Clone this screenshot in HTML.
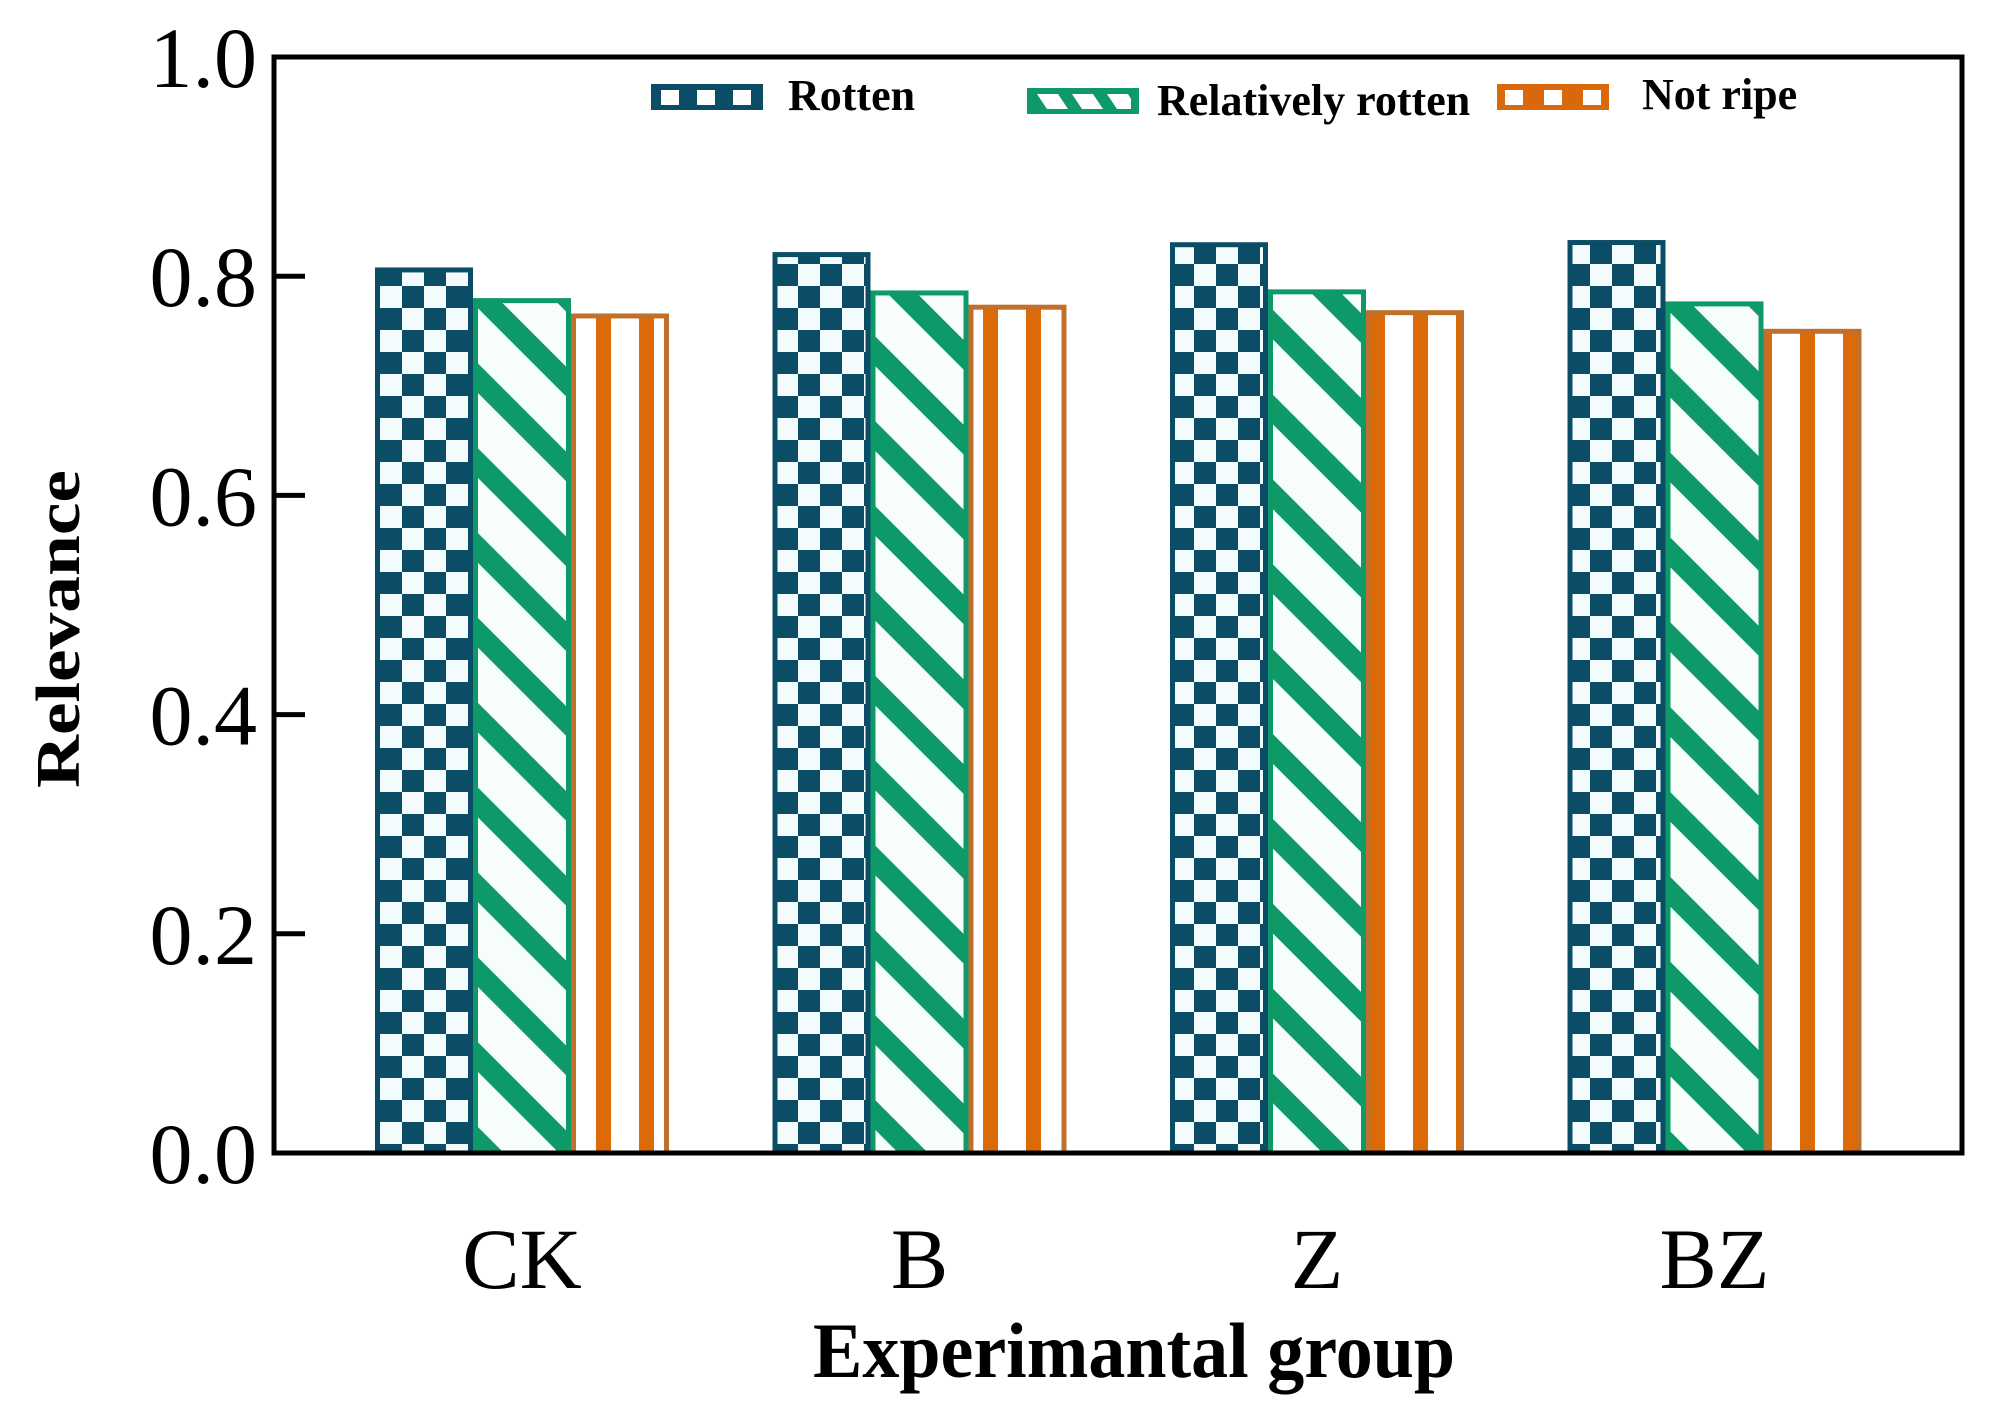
<!DOCTYPE html>
<html><head><meta charset="utf-8"><style>html,body{margin:0;padding:0;background:#fff}svg{display:block}</style></head>
<body>
<svg id="chart" width="1993" height="1415" viewBox="0 0 1993 1415" xmlns="http://www.w3.org/2000/svg" font-family="'Liberation Serif', serif">
<defs>
<pattern id="pat-check" patternUnits="userSpaceOnUse" width="44" height="44" x="380" y="0">
<rect width="44" height="44" fill="#f4fbfd"/><rect width="22" height="22" fill="#0b4c66"/><rect x="22" y="22" width="22" height="22" fill="#0b4c66"/></pattern>
<pattern id="pat-diag" patternUnits="userSpaceOnUse" width="60" height="60" patternTransform="rotate(-45)">
<rect width="60" height="60" fill="#f6fdfb"/><rect width="21" height="60" fill="#0d9a68"/></pattern>
<pattern id="pat-vert" patternUnits="userSpaceOnUse" width="43" height="10" x="574">
<rect width="43" height="10" fill="#fff"/><rect x="22" width="15" height="10" fill="#dc6a06"/></pattern>
</defs>
<g id="bars"></g>
<g id="axes"></g>
<g id="legend">
<g>
<rect x="651" y="84" width="112" height="26" fill="#0b4c66"/>
<rect x="661" y="90" width="18" height="15" fill="#fff"/><rect x="697" y="90" width="18" height="15" fill="#fff"/><rect x="733" y="90" width="18" height="15" fill="#fff"/>
<text x="788" y="110" font-size="44" font-weight="bold">Rotten</text></g>
<g>
<rect x="1027" y="88" width="112" height="26" fill="#0d9a68"/>
<polygon points="1037,94 1058,94 1068,109 1047,109" fill="#fff"/><polygon points="1072,94 1093,94 1103,109 1082,109" fill="#fff"/><polygon points="1107,94 1128,94 1131,99 1131,109 1117,109" fill="#fff"/>
<text x="1157" y="115" font-size="44" font-weight="bold">Relatively rotten</text></g>
<g>
<rect x="1497" y="84" width="112" height="26" fill="#d9680a"/>
<rect x="1505" y="90" width="18" height="15" fill="#fff"/><rect x="1544" y="90" width="18" height="15" fill="#fff"/><rect x="1583" y="90" width="18" height="15" fill="#fff"/>
<text x="1642" y="109" font-size="44" font-weight="bold">Not ripe</text></g>
</g>
</svg>
<script>
const categories = ["CK", "B", "Z", "BZ"];
const seriesNames = ["Rotten", "Relatively rotten", "Not ripe"];
const rotten = [0.808, 0.822, 0.831, 0.833];
const relativelyRotten = [0.780, 0.787, 0.788, 0.777];
const notRipe = [0.766, 0.774, 0.769, 0.752];
const yTicks = [0.0, 0.2, 0.4, 0.6, 0.8, 1.0];
const yTickLabels = ["0.0", "0.2", "0.4", "0.6", "0.8", "1.0"];

const NS = "http://www.w3.org/2000/svg";
const L = 274, R = 1962, T = 57, B = 1153;
const y = v => B - (B - T) * v;
const groupStep = 397.5, firstCenter = 522;
const x = i => firstCenter + i * groupStep;
const barW = 98;
function mk(tag, attrs, parent) { const e = document.createElementNS(NS, tag); for (const k in attrs) e.setAttribute(k, attrs[k]); parent.appendChild(e); return e; }
const barsG = document.getElementById('bars');
const axesG = document.getElementById('axes');
const series = [rotten, relativelyRotten, notRipe];
const fills = ["url(#pat-check)", "url(#pat-diag)", "url(#pat-vert)"];
const strokes = ["#0b4c66", "#0d9a68", "#c0702a"];
const keys = ["rotten", "relatively-rotten", "not-ripe"];
series.forEach((s, si) => {
  s.forEach((v, ci) => {
    const bx = x(ci) + (si - 1.5) * barW;
    const r = mk('rect', {x: bx + 2.5, y: y(v) + 2.5, width: barW - 5, height: B - y(v) - 2.5, fill: fills[si], stroke: strokes[si], 'stroke-width': 5}, barsG);
    
    
  });
});
const frame = mk('rect', {x: L, y: T, width: R - L, height: B - T, fill: 'none', stroke: '#000', 'stroke-width': 5}, axesG);


yTicks.forEach((v, i) => {
  if (v > 0 && v < 1) {
    const t = mk('line', {x1: L, x2: L + 31, y1: y(v), y2: y(v), stroke: '#000', 'stroke-width': 5}, axesG);
    
    
  }
  const lb = mk('text', {x: 257, y: y(v) + 30, 'font-size': 86, 'text-anchor': 'end'}, axesG);
  lb.textContent = yTickLabels[i];
  
  
});
categories.forEach((c, i) => {
  const lb = mk('text', {x: x(i), y: 1288, 'font-size': 86, 'text-anchor': 'middle'}, axesG);
  lb.textContent = c;
  
  
});
const xt = mk('text', {x: 813, y: 1377, 'font-size': 78, 'font-weight': 'bold', textLength: 642, lengthAdjust: 'spacingAndGlyphs'}, axesG);
xt.textContent = "Experimantal group";


const yt = mk('text', {x: 0, y: 0, 'font-size': 62, 'font-weight': 'bold', 'text-anchor': 'middle', textLength: 318, lengthAdjust: 'spacingAndGlyphs', transform: 'translate(79,629) rotate(-90)'}, axesG);
yt.textContent = "Relevance";


</script>
</body></html>
